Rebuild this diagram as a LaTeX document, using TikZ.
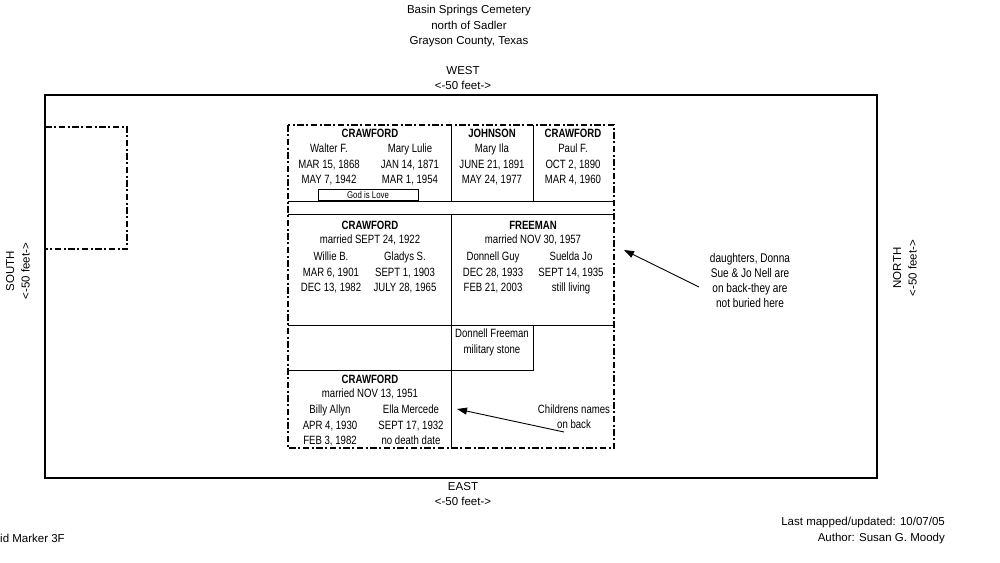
\documentclass[tikz,border=0pt]{standalone}
\usepackage{fontspec}
\setmainfont{Liberation Sans}
\newfontfamily\narrowfont[FakeStretch=0.8]{Liberation Sans}
\usetikzlibrary{arrows.meta}

\tikzset{
  big/.style={font=\fontsize{11.5}{15.5}\selectfont, inner sep=0pt, align=center},
  txt/.style={font=\narrowfont\fontsize{12}{15.3}\selectfont, inner sep=0pt, align=center},
  hd/.style={txt, font=\narrowfont\fontsize{12}{15.3}\selectfont\bfseries},
  plotline/.style={line width=0.9pt},
  plotborder/.style={line width=1.8pt, dash pattern=on 6.5pt off 2.5pt on 2pt off 2.5pt},
  pointer/.style={line width=0.9pt, -{Triangle[length=10pt,width=7pt]}},
}

\begin{document}
\begin{tikzpicture}[x=1pt, y=-1pt]
\useasboundingbox (0,0) rectangle (1000,562);

% cemetery outline
\draw[line width=1.4pt] (45,95) rectangle (877,478);
\draw[plotborder] (45,127) -- (127,127) -- (127,249) -- (45,249);

% headings and directions
\node[big, anchor=north] (title) at (469,5) {Basin Springs Cemetery\\north of Sadler\\Grayson County, Texas};
\node[big, anchor=north] (west) at (463,66) {WEST\\<-50 feet->};
\node[big, anchor=north] (east) at (463,482) {EAST\\<-50 feet->};
\node[big, rotate=90] (south) at (18,271) {SOUTH\\<-50 feet->};
\node[big, rotate=90] (north) at (905,268) {NORTH\\<-50 feet->};
\node[big, anchor=west] (marker) at (0,538) {id Marker 3F};
\node[big, anchor=north east, align=right] (author) at (945,517) {Last mapped/updated: 10/07/05\\Author: Susan G. Moody};

% family plot
\draw[plotborder] (288,125) rectangle (614,448);
\draw[plotline] (451,125) -- (451,201);
\draw[plotline] (533,125) -- (533,201);
\draw[plotline] (288,201) -- (614,201);
\draw[plotline] (288,214) -- (614,214);
\draw[plotline] (451,214) -- (451,448);
\draw[plotline] (288,325) -- (614,325);
\draw[plotline] (451,370) -- (533,370) -- (533,325);
\draw[plotline] (288,370) -- (451,370);

% row 1
\node[hd] (crawA) at (370,133) {CRAWFORD};
\node[txt, anchor=north] (walter) at (329,144) {Walter F.\\MAR 15, 1868\\MAY 7, 1942};
\node[txt, anchor=north] (mary) at (410,144) {Mary Lulie\\JAN 14, 1871\\MAR 1, 1954};
\node[txt, font=\narrowfont\fontsize{9.8}{11}\selectfont, draw, line width=0.7pt, minimum width=100pt, minimum height=11pt] (love) at (368,194.5) {God is Love};
\node[hd] (johnson) at (492,133) {JOHNSON};
\node[txt, anchor=north] (maryila) at (492,144) {Mary Ila\\JUNE 21, 1891\\MAY 24, 1977};
\node[hd] (crawB) at (573,133) {CRAWFORD};
\node[txt, anchor=north] (paul) at (573,144) {Paul F.\\OCT 2, 1890\\MAR 4, 1960};

% row 2
\node[hd] (crawC) at (370,225) {CRAWFORD};
\node[txt] (marC) at (370,240) {married SEPT 24, 1922};
\node[txt, anchor=north] (willie) at (331,252) {Willie B.\\MAR 6, 1901\\DEC 13, 1982};
\node[txt, anchor=north] (gladys) at (405,252) {Gladys S.\\SEPT 1, 1903\\JULY 28, 1965};
\node[hd] (freeman) at (533,225) {FREEMAN};
\node[txt] (marF) at (533,240) {married NOV 30, 1957};
\node[txt, anchor=north] (donnell) at (493,252) {Donnell Guy\\DEC 28, 1933\\FEB 21, 2003};
\node[txt, anchor=north] (suelda) at (571,252) {Suelda Jo\\SEPT 14, 1935\\still living};

% row 3
\node[txt, anchor=north] (stone) at (492,329) {Donnell Freeman\\military stone};

% row 4
\node[hd] (crawD) at (370,379) {CRAWFORD};
\node[txt] (marD) at (370,394) {married NOV 13, 1951};
\node[txt, anchor=north] (billy) at (330,405) {Billy Allyn\\APR 4, 1930\\FEB 3, 1982};
\node[txt, anchor=north] (ella) at (411,405) {Ella Mercede\\SEPT 17, 1932\\no death date};

% notes
\node[txt, font=\narrowfont\fontsize{12.6}{15}\selectfont] (daughters) at (750,280) {daughters, Donna\\Sue \& Jo Nell are\\on back-they are\\not buried here};
\node[txt, anchor=north, font=\narrowfont\fontsize{12}{15}\selectfont] (children) at (574,405) {Childrens names\\on back};
\coordinate (dstart) at (699,287);
\coordinate (dend) at (624,250);
\coordinate (cstart) at (564,432);
\coordinate (cend) at (457,409);
\draw[pointer] (dstart) -- (dend);
\draw[pointer] (cstart) -- (cend);
\end{tikzpicture}
\end{document}
